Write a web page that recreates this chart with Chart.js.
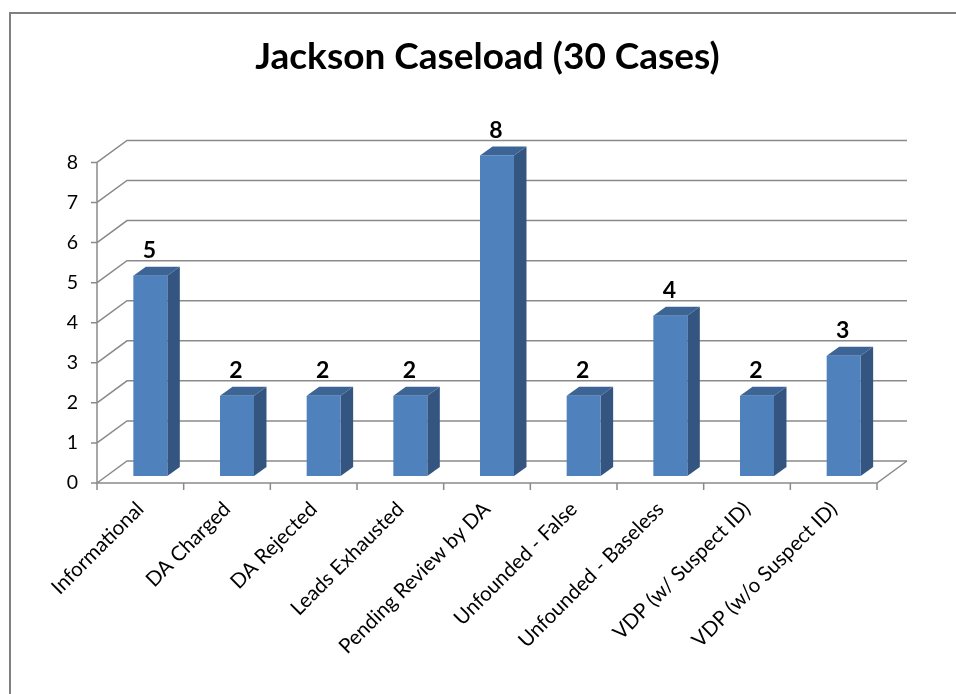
<!DOCTYPE html>
<html>
<head>
    <meta charset="UTF-8">
    <title>Jackson Caseload (30 Cases)</title>
    <script src="https://cdn.jsdelivr.net/npm/chart.js"></script>
    <style>
        body { margin: 0; background: #fff; }
        canvas { display: block; }
    </style>
</head>
<body>
    <canvas id="myChart" width="956" height="694"></canvas>

    <script>
        // data
        const categories = [
            'Informational',
            'DA Charged',
            'DA Rejected',
            'Leads Exhausted',
            'Pending Review by DA',
            'Unfounded - False',
            'Unfounded - Baseless',
            'VDP (w/ Suspect ID)',
            'VDP (w/o Suspect ID)'
        ];
        const caseCounts = [5, 2, 2, 2, 8, 2, 4, 2, 3];
        const yMin = 0;
        const yMax = 8;
        const yStep = 1;
        const chartTitle = 'Jackson Caseload (30 Cases)';

        // 3D look
        const wallDepth = { dx: 30, dy: -22 };   // left wall / floor depth
        const barShift = { dx: 10, dy: -7 };     // bar front face, set back from front plane
        const barDepth = { dx: 12.5, dy: -9 };
        const gridColor = '#8a8a8a';
        const barColors = { front: '#4f81bd', side: '#34557f', top: '#3c6595' };

        Chart.defaults.font.family = 'Lato';
        Chart.defaults.color = '#000';

        const wallsPlugin = {
            id: 'walls',
            beforeDraw(chart) {
                const ctx = chart.ctx;
                ctx.save();
                ctx.fillStyle = '#fff';
                ctx.fillRect(0, 0, chart.width, chart.height);
                // outer frame (left and top only are visible)
                ctx.strokeStyle = '#808080';
                ctx.lineWidth = 2;
                ctx.beginPath();
                ctx.moveTo(10, chart.height);
                ctx.lineTo(10, 13);
                ctx.lineTo(chart.width, 13);
                ctx.stroke();
                ctx.restore();
            },
            beforeDatasetsDraw(chart) {
                const { ctx, chartArea: a, scales: { x, y } } = chart;
                ctx.save();
                ctx.strokeStyle = gridColor;
                ctx.lineWidth = 1.5;
                ctx.beginPath();
                y.ticks.forEach(t => {
                    const py = y.getPixelForValue(t.value);
                    ctx.moveTo(a.left, py);
                    ctx.lineTo(a.left + wallDepth.dx, py + wallDepth.dy);
                    ctx.lineTo(a.right + wallDepth.dx, py + wallDepth.dy);
                    // tick mark
                    ctx.moveTo(a.left - 6, py);
                    ctx.lineTo(a.left, py);
                });
                // front axes and floor edge
                ctx.moveTo(a.left, y.getPixelForValue(yMax));
                ctx.lineTo(a.left, a.bottom);
                ctx.lineTo(a.right, a.bottom);
                ctx.lineTo(a.right + wallDepth.dx, a.bottom + wallDepth.dy);
                // category tick marks
                const half = (x.getPixelForTick(1) - x.getPixelForTick(0)) / 2;
                for (let i = 0; i <= categories.length; i++) {
                    const px = x.getPixelForTick(Math.min(i, categories.length - 1)) + (i < categories.length ? -half : half);
                    ctx.moveTo(px, a.bottom);
                    ctx.lineTo(px, a.bottom + 7);
                }
                ctx.stroke();
                ctx.restore();
            },
            afterDatasetsDraw(chart) {
                const ctx = chart.ctx;
                const meta = chart.getDatasetMeta(0);
                ctx.save();
                meta.data.forEach((bar, i) => {
                    const w = bar.width;
                    const left = bar.x - w / 2 + barShift.dx;
                    const right = left + w;
                    const top = bar.y + barShift.dy;
                    const bottom = bar.base + barShift.dy;

                    ctx.fillStyle = barColors.side;
                    ctx.beginPath();
                    ctx.moveTo(right, top);
                    ctx.lineTo(right + barDepth.dx, top + barDepth.dy);
                    ctx.lineTo(right + barDepth.dx, bottom + barDepth.dy);
                    ctx.lineTo(right, bottom);
                    ctx.closePath();
                    ctx.fill();

                    ctx.fillStyle = barColors.top;
                    ctx.beginPath();
                    ctx.moveTo(left, top);
                    ctx.lineTo(left + barDepth.dx, top + barDepth.dy);
                    ctx.lineTo(right + barDepth.dx, top + barDepth.dy);
                    ctx.lineTo(right, top);
                    ctx.closePath();
                    ctx.fill();

                    ctx.fillStyle = barColors.front;
                    ctx.fillRect(left, top, w, bottom - top);

                    // value label
                    ctx.fillStyle = '#000';
                    ctx.font = 'bold 23px Lato';
                    ctx.textAlign = 'center';
                    ctx.textBaseline = 'middle';
                    ctx.fillText(String(caseCounts[i]), left + w / 2 - 1, top - 25);
                });
                ctx.restore();
            }
        };

        const ctx = document.getElementById('myChart').getContext('2d');
        new Chart(ctx, {
            type: 'bar',
            data: {
                labels: categories,
                datasets: [{
                    label: 'Cases',
                    data: caseCounts,
                    backgroundColor: 'rgba(0,0,0,0)',
                    borderWidth: 0,
                    categoryPercentage: 1,
                    barPercentage: 0.392
                }]
            },
            options: {
                responsive: false,
                animation: false,
                layout: { padding: { left: 19, top: 0, right: 0, bottom: 0 } },
                scales: {
                    x: {
                        grid: { display: false },
                        border: { display: false },
                        ticks: {
                            minRotation: 45,
                            maxRotation: 45,
                            padding: 6,
                            font: { size: 20.5 }
                        },
                        afterFit(s) { s.height = 211; }
                    },
                    y: {
                        min: yMin,
                        max: yMax,
                        grid: { display: false },
                        border: { display: false },
                        ticks: {
                            stepSize: yStep,
                            padding: 11,
                            font: { size: 19.5 }
                        },
                        afterFit(s) { s.width = 78; }
                    },
                    yRight: {
                        position: 'right',
                        grid: { display: false },
                        border: { display: false },
                        ticks: { display: false },
                        afterFit(s) { s.width = 79; }
                    }
                },
                plugins: {
                    legend: { display: false },
                    tooltip: { enabled: false },
                    title: {
                        display: true,
                        text: chartTitle,
                        color: '#000',
                        font: { size: 37, weight: 'bold' },
                        padding: { top: 35, bottom: 83 }
                    }
                }
            },
            plugins: [wallsPlugin]
        });
    </script>
</body>
</html>
